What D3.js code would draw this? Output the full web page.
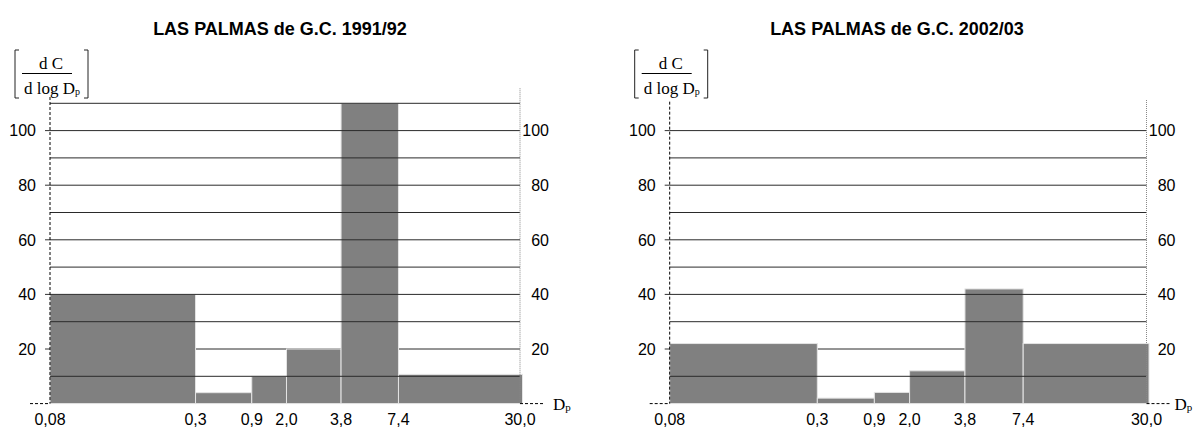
<!DOCTYPE html>
<html>
<head>
<meta charset="utf-8">
<script src="https://cdn.jsdelivr.net/npm/d3@7"></script>
<style>
  html, body { margin: 0; padding: 0; background: #fff; }
  svg { display: block; }
  .tick-label { font-family: "Liberation Sans", Arial, sans-serif; font-size: 16px; fill: #000; }
  .title { font-family: "Liberation Sans", Arial, sans-serif; font-size: 18px; font-weight: bold; fill: #000; }
  .serif { font-family: "Liberation Serif", "Times New Roman", serif; fill: #000; }
</style>
</head>
<body>
<svg id="chart" width="1193" height="427"></svg>
<script>
// Particle diameter bin edges (µm) and their labels
const binEdges = [0.08, 0.3, 0.9, 2.0, 3.8, 7.4, 30.0];
const edgeLabels = ["0,08", "0,3", "0,9", "2,0", "3,8", "7,4", "30,0"];

// dC / dlogDp per bin
const values1991 = [40, 4, 10, 20, 110, 10.7];
const values2002 = [22, 2, 4.1, 12, 42, 22];

// Y axis ticks and grid
const yTickLabels = [20, 40, 60, 80, 100];
const gridValues1991 = [10, 20, 30, 40, 50, 60, 70, 80, 90, 100, 110];
const gridValues2002 = [10, 20, 30, 40, 50, 60, 70, 80, 90, 100];
// grid levels drawn underneath the bars
const gridBehind = [20];

const titles = ["LAS PALMAS de G.C. 1991/92", "LAS PALMAS de G.C. 2002/03"];

// Relative position of each bin edge along the horizontal axis
const edgeFractions = [0, 0.308, 0.427, 0.5005, 0.616, 0.7375, 1];

const svg = d3.select("#chart");

const panels = [
  { title: titles[0], values: values1991, grid: gridValues1991,
    x0: 50, x1: 522.5, axisR: 520, titleX: 280, axisTopL: 112.3, axisTopR: 115.5, dpGap: 33 },
  { title: titles[1], values: values2002, grid: gridValues2002,
    x0: 669.7, x1: 1149, axisR: 1146.5, titleX: 897, axisTopL: 110.6, axisTopR: 111.2, dpGap: 28 }
];

const y = d3.scaleLinear().domain([0, 110]).range([403.6, 103.3]);

panels.forEach(p => {
  const g = svg.append("g");
  const x = d3.scaleLinear()
    .domain(binEdges)
    .range(edgeFractions.map(f => p.x0 + f * (p.x1 - p.x0)));

  const bins = p.values.map((v, i) => ({ lo: binEdges[i], hi: binEdges[i + 1], v }));

  // title
  g.append("text").attr("class", "title")
    .attr("x", p.titleX).attr("y", 35)
    .attr("text-anchor", "middle")
    .text(p.title);

  const gridLine = sel => sel
    .attr("x1", p.x0).attr("x2", p.axisR)
    .attr("y1", d => y(d)).attr("y2", d => y(d))
    .attr("stroke", "#2a2a2a").attr("stroke-width", 1);

  // grid lines underneath the bars
  g.append("g").selectAll("line")
    .data(p.grid.filter(d => gridBehind.includes(d)))
    .join("line").call(gridLine);

  // bars
  g.append("g").selectAll("rect")
    .data(bins)
    .join("rect")
    .attr("x", d => x(d.lo))
    .attr("width", d => x(d.hi) - x(d.lo))
    .attr("y", d => y(d.v))
    .attr("height", d => y(0) - y(d.v))
    .attr("fill", "#808080")
    .attr("stroke", "#e4e4e4")
    .attr("stroke-width", 1);

  // grid lines over the bars
  g.append("g").selectAll("line")
    .data(p.grid.filter(d => !gridBehind.includes(d)))
    .join("line").call(gridLine);

  // left tick marks
  g.append("g").selectAll("line")
    .data(yTickLabels)
    .join("line")
    .attr("x1", p.x0 - 5).attr("x2", p.x0)
    .attr("y1", d => y(d)).attr("y2", d => y(d))
    .attr("stroke", "#333");

  // left axis (dashed)
  g.append("line")
    .attr("x1", p.x0).attr("x2", p.x0)
    .attr("y1", y(p.axisTopL)).attr("y2", y(0))
    .attr("stroke", "#000").attr("stroke-width", 1)
    .attr("stroke-dasharray", "3,2");

  // right axis (dotted grey)
  g.append("line")
    .attr("x1", p.axisR).attr("x2", p.axisR)
    .attr("y1", y(p.axisTopR)).attr("y2", y(0))
    .attr("stroke", "#888").attr("stroke-width", 1)
    .attr("stroke-dasharray", "1,1");

  // baseline stubs outside the plot
  g.append("line")
    .attr("x1", p.x0 - 20).attr("x2", p.x0)
    .attr("y1", y(0)).attr("y2", y(0))
    .attr("stroke", "#000").attr("stroke-dasharray", "3,2");
  g.append("line")
    .attr("x1", p.axisR).attr("x2", p.axisR + 23)
    .attr("y1", y(0)).attr("y2", y(0))
    .attr("stroke", "#000").attr("stroke-dasharray", "3,2");

  // y tick labels, both sides
  g.append("g").selectAll("text")
    .data(yTickLabels)
    .join("text").attr("class", "tick-label")
    .attr("x", p.x0 - 14).attr("y", d => y(d))
    .attr("dy", "0.36em").attr("text-anchor", "end")
    .text(d => d);
  g.append("g").selectAll("text")
    .data(yTickLabels)
    .join("text").attr("class", "tick-label")
    .attr("x", p.axisR + 29).attr("y", d => y(d))
    .attr("dy", "0.36em").attr("text-anchor", "end")
    .text(d => d);

  // x edge labels
  g.append("g").selectAll("text")
    .data(binEdges)
    .join("text").attr("class", "tick-label")
    .attr("x", (d, i) => i === binEdges.length - 1 ? p.axisR : x(d))
    .attr("y", 425)
    .attr("text-anchor", "middle")
    .text((d, i) => edgeLabels[i]);

  // x axis name: Dp
  const dp = g.append("text").attr("class", "serif")
    .attr("x", p.axisR + p.dpGap).attr("y", 410)
    .style("font-size", "17px");
  dp.append("tspan").text("D");
  dp.append("tspan").attr("dy", 1).style("font-size", "11px").text("p");

  // y axis name: [ dC / d log Dp ]
  const lx = p.x0 - 35;      // left bracket
  const rx = p.x0 + 38;      // right bracket
  const by0 = 50, by1 = 98;
  const bracket = (xe, dir) =>
    `M${xe + 4 * dir},${by0}H${xe}V${by1}H${xe + 4 * dir}`;
  g.append("path").attr("d", bracket(lx, 1))
    .attr("fill", "none").attr("stroke", "#222").attr("stroke-width", 1);
  g.append("path").attr("d", bracket(rx, -1))
    .attr("fill", "none").attr("stroke", "#222").attr("stroke-width", 1);
  const cx = lx + 37;
  g.append("text").attr("class", "serif")
    .attr("x", cx - 1).attr("y", 69).attr("text-anchor", "middle")
    .style("font-size", "17px").text("d C");
  g.append("line")
    .attr("x1", lx + 7).attr("x2", rx - 16)
    .attr("y1", 73.5).attr("y2", 73.5)
    .attr("stroke", "#000").attr("stroke-width", 1);
  const den = g.append("text").attr("class", "serif")
    .attr("x", cx).attr("y", 93.5).attr("text-anchor", "middle")
    .style("font-size", "17px");
  den.append("tspan").text("d log D");
  den.append("tspan").attr("dy", 1).style("font-size", "10px").text("p");
});
</script>
</body>
</html>
